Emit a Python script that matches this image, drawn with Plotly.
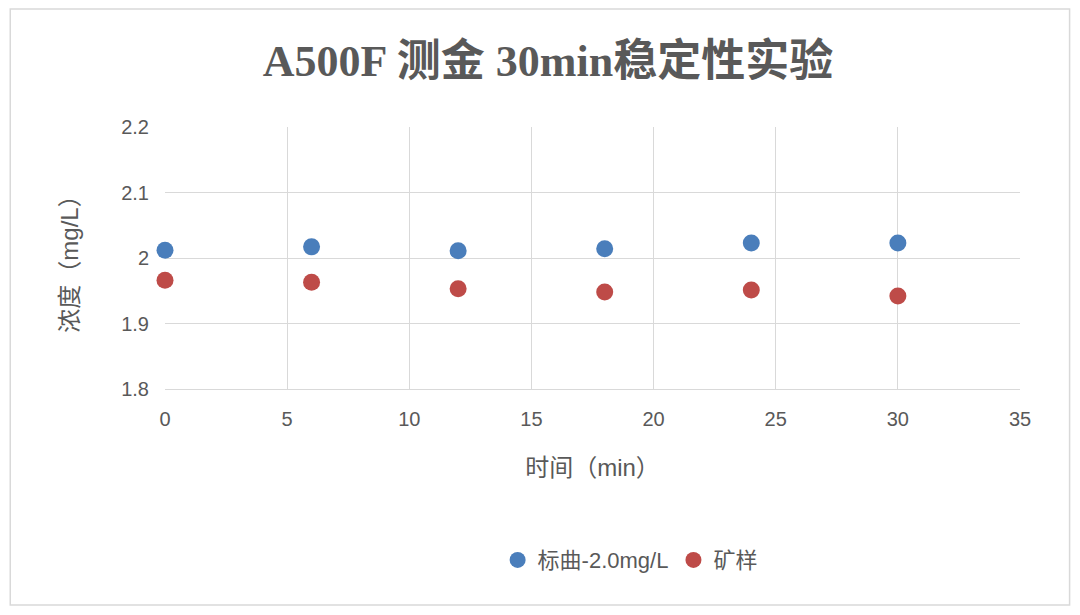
import plotly.graph_objects as go

time_min = [0, 6, 12, 18, 24, 30]
std_vals = [2.012, 2.017, 2.011, 2.014, 2.023, 2.023]
ore_vals = [1.966, 1.963, 1.953, 1.948, 1.951, 1.942]
x_ticks = [0, 5, 10, 15, 20, 25, 30, 35]
y_ticks = [1.8, 1.9, 2.0, 2.1, 2.2]
y_labels = ["1.8", "1.9", "2", "2.1", "2.2"]

font = "Liberation Sans, Noto Sans CJK SC"
fig = go.Figure()
fig.add_trace(go.Scatter(x=time_min, y=std_vals, mode="markers", name="标曲-2.0mg/L",
                         marker=dict(color="#4a7ebb", size=17), cliponaxis=False))
fig.add_trace(go.Scatter(x=time_min, y=ore_vals, mode="markers", name="矿样",
                         marker=dict(color="#be4b48", size=17), cliponaxis=False))
fig.update_layout(
    width=1080, height=615, paper_bgcolor="white", plot_bgcolor="white",
    margin=dict(l=157, r=68, t=119, b=234),
    font=dict(family=font, color="#595959", size=20),
    title=dict(text="<b>A500F 测金 30min稳定性实验</b>", x=0.5, xanchor="center",
               y=0.915, yanchor="middle",
               font=dict(family="Liberation Serif, Noto Sans CJK SC", size=44, color="#595959")),
    xaxis=dict(range=[0, 35], tickvals=x_ticks, showgrid=True, gridcolor="#d9d9d9",
               zeroline=False, showline=True, linecolor="#d9d9d9", mirror=False,
               ticks="", ticklabelstandoff=12, title=dict(text="时间（min）", standoff=30)),
    yaxis=dict(range=[1.8, 2.2], tickvals=y_ticks, ticktext=y_labels, showgrid=True,
               gridcolor="#d9d9d9", zeroline=False, ticks="", ticklabelstandoff=15,
               title=dict(text="浓度（mg/L）", standoff=35)),
    legend=dict(orientation="h", x=0.544, xanchor="center", y=-0.653, yanchor="middle",
                font=dict(size=22)),
    shapes=[dict(type="rect", xref="paper", yref="paper", x0=-0.181, x1=1.058, y0=-0.824, y1=1.45,
                 line=dict(color="#d9d9d9", width=1.5))],
)
fig.write_html("out.html")
